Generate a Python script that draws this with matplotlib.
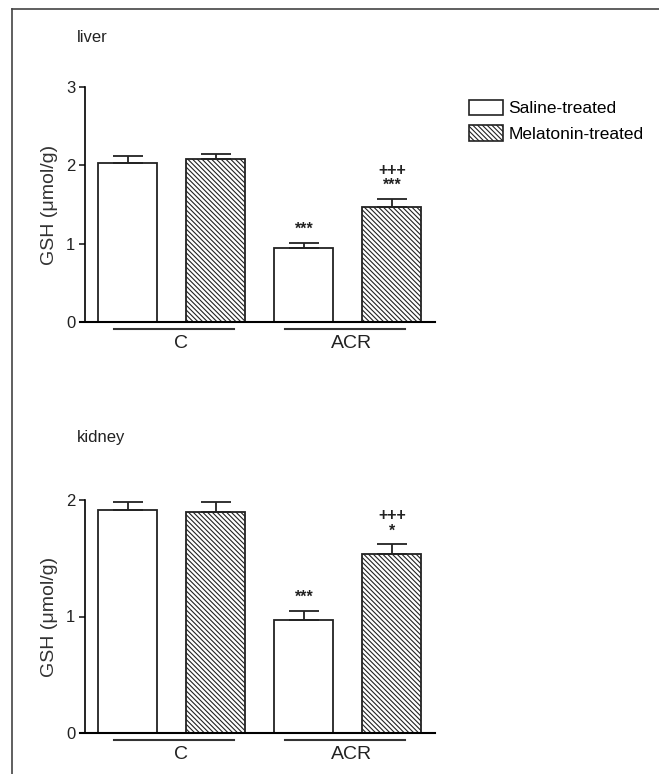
import matplotlib.pyplot as plt
from matplotlib.lines import Line2D
from matplotlib.patches import Patch
import matplotlib.transforms as mtransforms

plt.rcParams['font.family'] = ['Liberation Sans', 'DejaVu Sans']
plt.rcParams['hatch.linewidth'] = 0.8
plt.rcParams['hatch.color'] = '#333333'

# Data
groups = ["C", "ACR"]
series = ["Saline-treated", "Melatonin-treated"]

liver_saline = [2.03, 0.94]
liver_saline_err = [0.09, 0.07]
liver_melatonin = [2.08, 1.47]
liver_melatonin_err = [0.07, 0.10]
liver_marks_saline = ["", "***"]
liver_marks_melatonin = ["", "+++\n***"]

kidney_saline = [1.91, 0.97]
kidney_saline_err = [0.07, 0.08]
kidney_melatonin = [1.90, 1.54]
kidney_melatonin_err = [0.08, 0.08]
kidney_marks_saline = ["", "***"]
kidney_marks_melatonin = ["", "+++\n*"]

HATCH = '\\' * 7

W, H = 659, 774
fig = plt.figure(figsize=(W / 100, H / 100), dpi=100)

# Frame (top and left border)
fig.add_artist(Line2D([12 / W, 12 / W], [0, 1 - 9 / H], color='#444444', lw=1.2))
fig.add_artist(Line2D([12 / W, 1], [1 - 9 / H, 1 - 9 / H], color='#444444', lw=1.2))


def panel(rect, title, title_y, ymax, saline, saline_err, mel, mel_err, marks_s, marks_m):
    ax = fig.add_axes(rect)
    xs = [0, 2]
    xm = [1, 3]
    bw = 0.67
    ax.bar(xs, saline, width=bw, color='white', edgecolor='#222222', linewidth=1.3)
    ax.bar(xm, mel, width=bw, color='white', edgecolor='#222222', linewidth=1.3,
           hatch=HATCH)
    # upper error bars only
    ax.errorbar(xs, saline, yerr=[[0, 0], saline_err], fmt='none', ecolor='#222222',
                elinewidth=1.3, capsize=11, capthick=1.3)
    ax.errorbar(xm, mel, yerr=[[0, 0], mel_err], fmt='none', ecolor='#222222',
                elinewidth=1.3, capsize=11, capthick=1.3)
    for x, v, e, m in zip(xs + xm, saline + mel, saline_err + mel_err, marks_s + marks_m):
        if m:
            ax.text(x, v + e + 0.025 * ymax, m, ha='center', va='bottom', fontsize=11.5,
                    linespacing=1.0, color='#222222', fontweight='bold')

    ax.set_xlim(-0.545, 3.49)
    ax.set_ylim(0, ymax)
    ax.set_yticks(range(ymax + 1))
    ax.set_xticks([])
    for s in ['top', 'right']:
        ax.spines[s].set_visible(False)
    ax.spines['left'].set_position(('axes', 5 / 355))
    ax.spines['left'].set_linewidth(1.2)
    ax.spines['bottom'].set_linewidth(1.5)
    ax.tick_params(axis='y', length=4, width=1.2, labelsize=12, pad=3, colors='#222222')
    ax.set_ylabel("GSH (μmol/g)", fontsize=14, color='#333333', labelpad=6)

    # group underlines and labels
    trans = mtransforms.blended_transform_factory(ax.transData, ax.transAxes)
    for (x0, x1), lab in zip([(-0.16, 1.2), (1.78, 3.15)], groups):
        ax.add_line(Line2D([x0, x1], [-0.03, -0.03], transform=trans, color='#333333',
                           lw=1.5, clip_on=False))
        ax.text((x0 + x1) / 2 + 0.08, -0.055, lab, transform=trans, ha='center',
                va='top', fontsize=14, color='#222222')
    ax.text(-0.01, title_y, title, transform=ax.transAxes, fontsize=12, color='#222222',
            ha='left', va='center')
    return ax


ax1 = panel([80 / W, 1 - 322 / H, 355 / W, 235 / H], "liver", 1.21, 3,
            liver_saline, liver_saline_err, liver_melatonin, liver_melatonin_err,
            liver_marks_saline, liver_marks_melatonin)
ax2 = panel([80 / W, 1 - 733 / H, 355 / W, 233 / H], "kidney", 1.27, 2,
            kidney_saline, kidney_saline_err, kidney_melatonin, kidney_melatonin_err,
            kidney_marks_saline, kidney_marks_melatonin)

handles = [Patch(facecolor='white', edgecolor='#222222', linewidth=1.2),
           Patch(facecolor='white', edgecolor='#222222', linewidth=1.2, hatch=HATCH)]
fig.legend(handles, series, loc='upper left', bbox_to_anchor=(460 / W, 1 - 91 / H),
           frameon=False, fontsize=12.5, handlelength=2.0, handleheight=1.0,
           handletextpad=0.3, labelspacing=0.5, borderpad=0)

fig.savefig("out.png", dpi=100)
